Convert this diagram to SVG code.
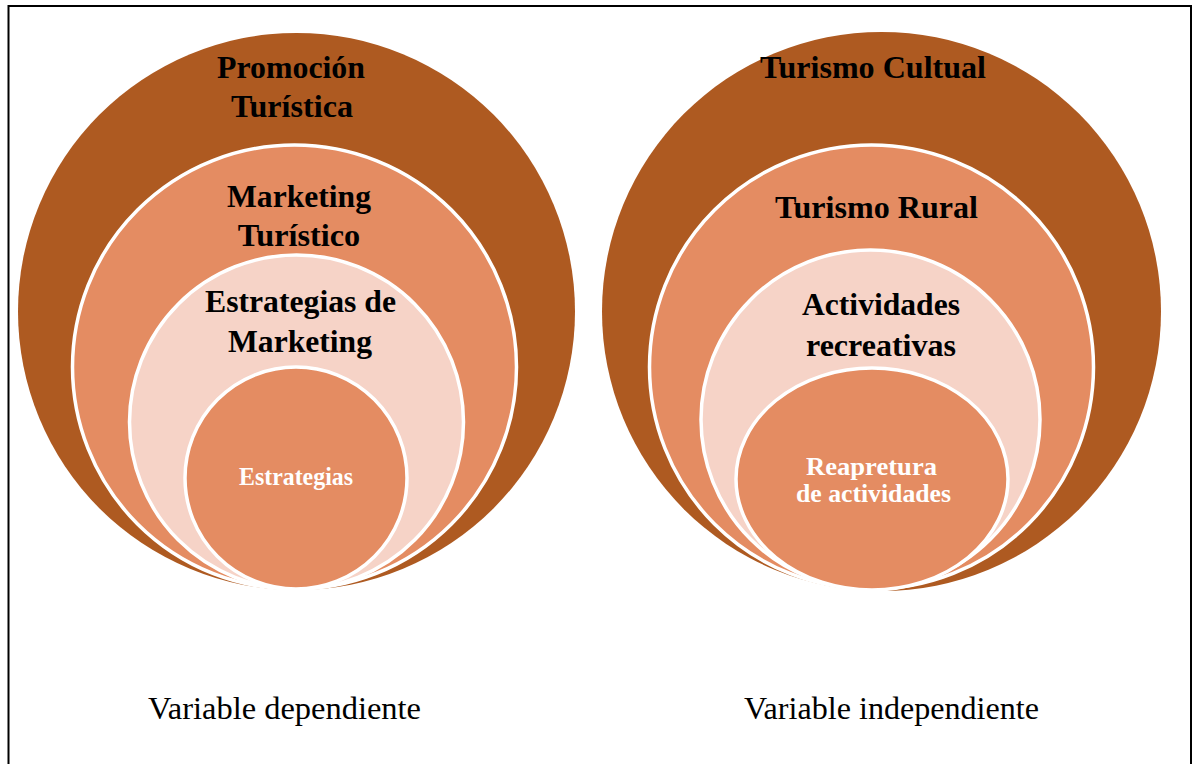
<svg xmlns="http://www.w3.org/2000/svg" width="1193" height="764" viewBox="0 0 1193 764">
  <style>
    .bg { fill: #ffffff; }
    .frame { fill: none; stroke: #000000; stroke-width: 2; }
    .l1 { fill: #AE5A21; }
    .l2 { fill: #E48C62; stroke: #ffffff; stroke-width: 3.5; }
    .l3 { fill: #F6D3C7; stroke: #ffffff; stroke-width: 3.5; }
    .l4 { fill: #E48C62; stroke: #ffffff; stroke-width: 3.5; }
    .lbl { font-family: "Liberation Serif", "Times New Roman", serif; font-weight: bold; font-size: 31px; fill: #000000; text-anchor: middle; }
    .wlbl { font-family: "Liberation Serif", "Times New Roman", serif; font-weight: bold; font-size: 24.5px; fill: #ffffff; text-anchor: middle; }
    .cap { font-family: "Liberation Serif", "Times New Roman", serif; font-size: 31px; fill: #000000; }
  </style>
  <rect class="bg" x="0" y="0" width="1193" height="764"/>
  <path class="frame" d="M8.5,780 V6 H1191 V780"/>

  <g id="promocion-turistica">
    <circle class="l1" cx="296.5" cy="311.5" r="278.5"/>
    <text class="lbl" x="291" y="78" textLength="148" lengthAdjust="spacingAndGlyphs">Promoción</text>
    <text class="lbl" x="292" y="117" textLength="122" lengthAdjust="spacingAndGlyphs">Turística</text>
  </g>
  <g id="marketing-turistico">
    <circle class="l2" cx="294.5" cy="367" r="222"/>
    <text class="lbl" x="299" y="207" textLength="144" lengthAdjust="spacingAndGlyphs">Marketing</text>
    <text class="lbl" x="299" y="246" textLength="122.5" lengthAdjust="spacingAndGlyphs">Turístico</text>
  </g>
  <g id="estrategias-de-marketing">
    <circle class="l3" cx="296.5" cy="422" r="167"/>
    <text class="lbl" x="300.5" y="312" textLength="191" lengthAdjust="spacingAndGlyphs">Estrategias de</text>
    <text class="lbl" x="300" y="352" textLength="144" lengthAdjust="spacingAndGlyphs">Marketing</text>
  </g>
  <g id="estrategias">
    <circle class="l4" cx="296" cy="478" r="111"/>
    <text class="wlbl" x="296" y="485" textLength="114" lengthAdjust="spacingAndGlyphs">Estrategias</text>
  </g>

  <g id="turismo-cultual">
    <circle class="l1" cx="881.5" cy="311.5" r="279.5"/>
    <text class="lbl" x="873" y="78" textLength="226" lengthAdjust="spacingAndGlyphs">Turismo Cultual</text>
  </g>
  <g id="turismo-rural">
    <circle class="l2" cx="871.5" cy="367" r="222"/>
    <text class="lbl" x="876.5" y="218" textLength="203" lengthAdjust="spacingAndGlyphs">Turismo Rural</text>
  </g>
  <g id="actividades-recreativas">
    <circle class="l3" cx="870.5" cy="419.5" r="169.5"/>
    <text class="lbl" x="881" y="315" textLength="158" lengthAdjust="spacingAndGlyphs">Actividades</text>
    <text class="lbl" x="881" y="356" textLength="150" lengthAdjust="spacingAndGlyphs">recreativas</text>
  </g>
  <g id="reapretura">
    <ellipse class="l4" cx="872" cy="479" rx="136" ry="111"/>
    <text class="wlbl" x="871.5" y="475" textLength="131" lengthAdjust="spacingAndGlyphs">Reapretura</text>
    <text class="wlbl" x="873.5" y="502" textLength="155" lengthAdjust="spacingAndGlyphs">de actividades</text>
  </g>

  <g id="connectors"/>

  <g id="captions">
    <text class="cap" x="148" y="719" textLength="273" lengthAdjust="spacingAndGlyphs">Variable dependiente</text>
    <text class="cap" x="744" y="719" textLength="295" lengthAdjust="spacingAndGlyphs">Variable independiente</text>
  </g>
</svg>
